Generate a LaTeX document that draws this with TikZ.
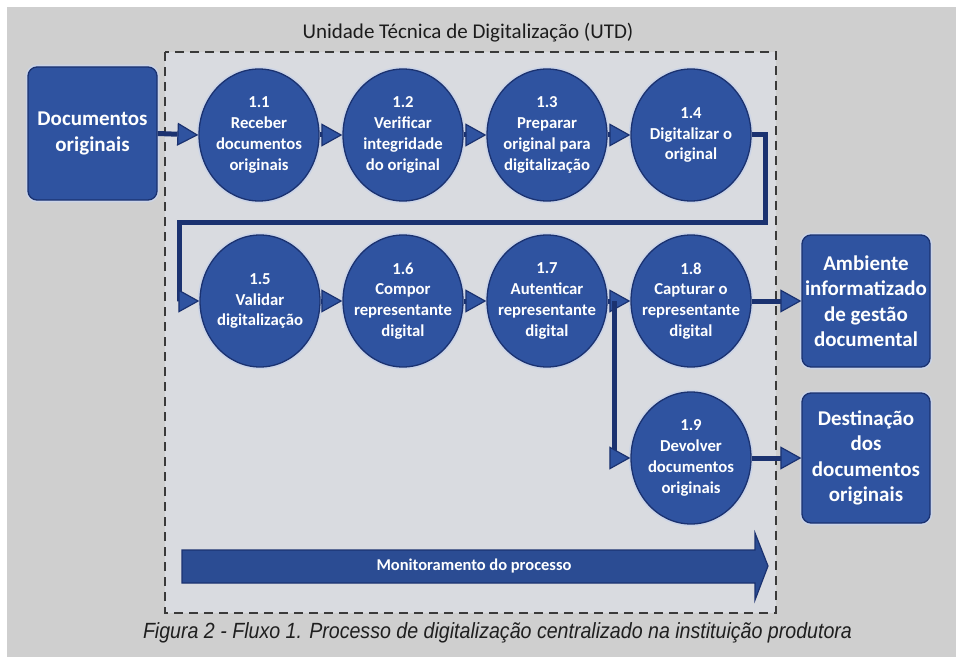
\documentclass[tikz,border=0pt]{standalone}
\usepackage{fontspec}
\setmainfont{Carlito}
\newfontfamily\capfont{Liberation Sans}
\usetikzlibrary{shapes.geometric,arrows.meta}
\definecolor{bg}{HTML}{CFCFCF}
\definecolor{inbg}{HTML}{D9DBE0}
\definecolor{cblue}{HTML}{2F53A0}
\definecolor{navy}{HTML}{1B3270}
\definecolor{dashc}{HTML}{3A3A3A}
\definecolor{ttl}{HTML}{1C1C1C}
\begin{document}
\begin{tikzpicture}[x=1pt,y=-1pt,
  proc/.style={ellipse, minimum width=120pt, minimum height=132pt, inner sep=0pt,
    fill=cblue, draw=navy, line width=1.3pt,
    preaction={draw=white!75!cblue, line width=4.5pt}},
  ptxt/.style={text=white, font=\bfseries\fontsize{16.7}{20.8}\selectfont, align=center, inner sep=0pt},
  ebox/.style={rectangle, rounded corners=9pt, fill=cblue, draw=navy, line width=1.3pt,
    inner sep=0pt, align=center, text=white, font=\bfseries\fontsize{21}{25.5}\selectfont,
    preaction={draw=white!75!cblue, line width=4.5pt}},
  flow/.style={draw=navy, line width=5pt,
    -{Triangle[length=21pt,width=23pt,fill=cblue,line width=1.2pt]}},
  ]
\useasboundingbox (0,0) rectangle (956,658);
\fill[white] (0,0) rectangle (956,658);
\fill[bg] (7,7) rectangle (956,657);
% UTD area
\draw[fill=inbg, draw=dashc, line width=1.3pt, dash pattern=on 9pt off 6pt] (165,52) rectangle (776,613);
\node[font=\fontsize{21}{25}\selectfont, text=ttl] (title) at (468,33) {Unidade Técnica de Digitalização (UTD)};

% external boxes
\node[ebox, minimum width=129pt, minimum height=133pt] (docs) at (92.5,133.5) {Documentos\\originais};
\node[ebox, minimum width=128pt, minimum height=132pt] (amb) at (866,301) {Ambiente\\informatizado\\de gestão\\documental};
\node[ebox, minimum width=128pt, minimum height=130pt] (dest) at (866,458) {Destinação\\dos\\documentos\\originais};

% process circles
\node[proc] (c11) at (259,135) {};
\node[proc] (c12) at (403,135) {};
\node[proc] (c13) at (547,135) {};
\node[proc] (c14) at (691,135) {};
\node[proc] (c15) at (260,301) {};
\node[proc] (c16) at (403,301) {};
\node[proc] (c17) at (547,301) {};
\node[proc] (c18) at (691,301) {};
\node[proc] (c19) at (691,458) {};

\node[ptxt] (t11) at (c11) {1.1\\Receber\\documentos\\originais};
\node[ptxt] (t12) at (c12) {1.2\\Verificar\\integridade\\do original};
\node[ptxt] (t13) at (c13) {1.3\\Preparar\\original para\\digitalização};
\node[ptxt] (t14) at (c14) {1.4\\Digitalizar o\\original};
\node[ptxt] (t15) at (c15) {1.5\\Validar\\digitalização};
\node[ptxt] (t16) at (c16) {1.6\\Compor\\representante\\digital};
\node[ptxt] (t17) at (c17) {1.7\\Autenticar\\representante\\digital};
\node[ptxt] (t18) at (c18) {1.8\\Capturar o\\representante\\digital};
\node[ptxt] (t19) at (c19) {1.9\\Devolver\\documentos\\originais};

% connectors
\coordinate (fbA) at (765,222);
\coordinate (fbB) at (179,222);
\coordinate (br) at (614,301);
\draw[flow] (docs.east) -- (c11.west);
\draw[flow] (c11.east) -- (c12.west);
\draw[flow] (c12.east) -- (c13.west);
\draw[flow] (c13.east) -- (c14.west);
\draw[flow] (c14.east) -| (fbA) -- (fbB) |- (c15.west);
\draw[flow] (c15.east) -- (c16.west);
\draw[flow] (c16.east) -- (c17.west);
\draw[flow] (c17.east) -- (c18.west);
\draw[flow] (br) |- (c19.west);
\draw[flow] (c18.east) -- (amb.west);
\draw[flow] (c19.east) -- (dest.west);

% monitoring arrow
\draw[fill=cblue!92!black, draw=navy, line width=1.2pt]
  (182,550) -- (755,550) -- (755,533) -- (768,566) -- (755,600) -- (755,583) -- (182,583) -- cycle;
\node[text=white, font=\bfseries\fontsize{16.5}{18}\selectfont] (mon) at (474,566) {Monitoramento do processo};

% caption
\node[font=\capfont\itshape\fontsize{22}{25}\selectfont, text=black!88] (cap) at (497.5,633)
  {\resizebox{709pt}{\height}{Figura 2 - Fluxo 1. Processo de digitalização centralizado na instituição produtora}};
\end{tikzpicture}
\end{document}
